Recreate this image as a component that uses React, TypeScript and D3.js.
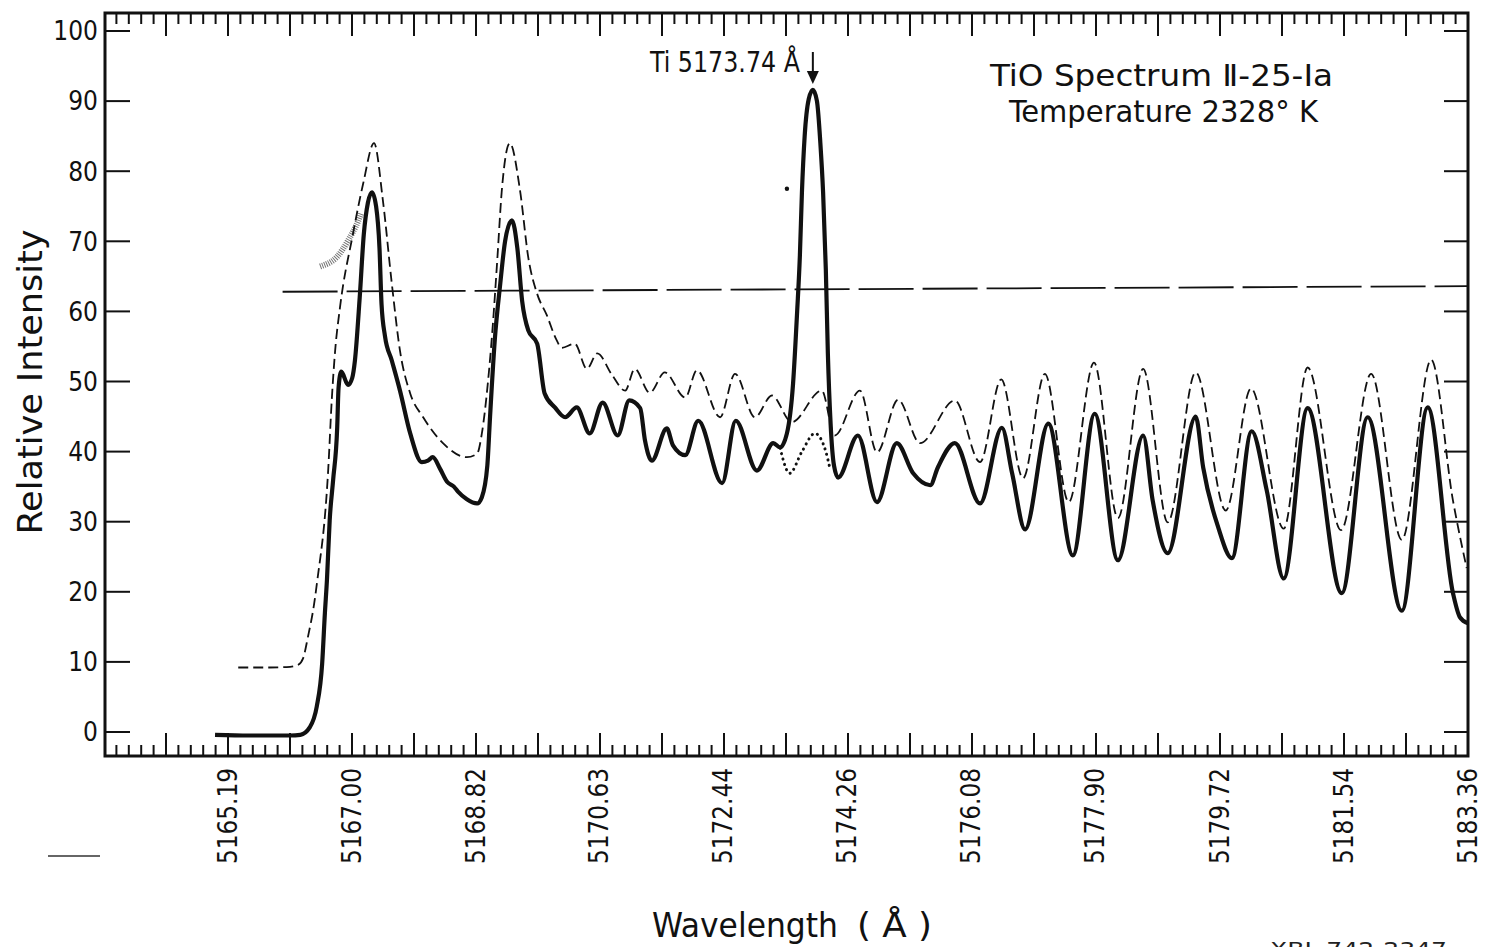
import React, { useEffect, useRef } from 'react';
import * as d3 from 'd3';

// Values: [wavelength in Å, relative intensity]
const solidTrace: [number, number][] = [
  [5165.0, -0.4], [5165.5, -0.5], [5166.1, -0.5], [5166.25, -0.4], [5166.39, 0.7],
  [5166.49, 3.6], [5166.57, 9.8], [5166.61, 17], [5166.64, 21.7], [5166.68, 30.2],
  [5166.73, 35.9], [5166.79, 43.4], [5166.81, 49.1], [5166.85, 51.4], [5166.95, 49.5],
  [5167.01, 50.5], [5167.05, 53], [5167.12, 62], [5167.18, 71], [5167.24, 75.5],
  [5167.3, 77], [5167.36, 75], [5167.41, 69], [5167.44, 61], [5167.49, 56.5],
  [5167.59, 53], [5167.71, 48.7], [5167.86, 42.6], [5168.03, 38.5], [5168.12, 38.7],
  [5168.19, 39.2], [5168.3, 37.5], [5168.4, 35.7], [5168.5, 35.0], [5168.56, 34.3],
  [5168.69, 33.2], [5168.84, 32.6], [5168.91, 33.5], [5168.99, 38], [5169.03, 45],
  [5169.1, 56], [5169.18, 64], [5169.25, 70], [5169.35, 73], [5169.43, 69],
  [5169.5, 61.5], [5169.59, 57.3], [5169.72, 55.4], [5169.83, 48.3], [5169.98, 46.3],
  [5170.13, 44.9], [5170.3, 46.3], [5170.49, 42.6], [5170.68, 47.0], [5170.9, 42.3],
  [5171.07, 47.3], [5171.23, 46.2], [5171.3, 41.6], [5171.4, 38.7], [5171.62, 43.3],
  [5171.71, 40.9], [5171.89, 39.5], [5172.08, 44.4], [5172.43, 35.5], [5172.63, 44.4],
  [5172.94, 37.3], [5173.18, 41.2], [5173.28, 40.6], [5173.38, 42.6], [5173.47, 49.7],
  [5173.53, 60], [5173.57, 68], [5173.6, 77], [5173.64, 85], [5173.7, 90.3],
  [5173.76, 91.6], [5173.82, 90], [5173.87, 84], [5173.91, 77], [5173.95, 66],
  [5173.98, 54], [5174.02, 44], [5174.07, 38], [5174.13, 36.3], [5174.42, 42.3],
  [5174.7, 32.8], [5174.99, 41.2], [5175.23, 36.9], [5175.48, 35.2], [5175.59, 37.7],
  [5175.84, 41.2], [5176.21, 32.6], [5176.53, 43.4], [5176.68, 36.9], [5176.87, 28.9],
  [5177.21, 44.0], [5177.57, 25.2], [5177.89, 45.4], [5178.23, 24.5], [5178.6, 42.3],
  [5178.74, 33.0], [5178.96, 25.5], [5179.37, 45.0], [5179.48, 37.7], [5179.7, 29.2],
  [5179.9, 24.8], [5180.19, 42.9], [5180.41, 34.5], [5180.66, 21.9], [5181.01, 46.2],
  [5181.51, 19.8], [5181.89, 44.9], [5182.39, 17.3], [5182.77, 46.3], [5183.14, 19.8],
  [5183.24, 16.4], [5183.36, 15.5],
];

const dashedTrace: [number, number][] = [
  [5165.34, 9.2], [5165.8, 9.2], [5166.1, 9.3], [5166.22, 9.6], [5166.29, 10.5],
  [5166.36, 13.5], [5166.46, 18.8], [5166.49, 21], [5166.66, 37.7], [5166.71, 47.3],
  [5166.76, 54.4], [5166.83, 60.5], [5167.02, 71], [5167.17, 78.2], [5167.33, 84],
  [5167.46, 75.8], [5167.59, 64], [5167.71, 54.4], [5167.86, 48.3], [5168.05, 44.9],
  [5168.34, 41.2], [5168.69, 39.2], [5168.84, 39.7], [5168.91, 42.6], [5169.0, 50],
  [5169.07, 58], [5169.14, 68], [5169.2, 77], [5169.32, 84], [5169.47, 77.2],
  [5169.59, 67.7], [5169.72, 62.5], [5169.86, 59.5], [5170.0, 56], [5170.08, 54.8],
  [5170.27, 55.4], [5170.45, 51.8], [5170.6, 54], [5170.82, 50.9], [5171.01, 48.7],
  [5171.15, 51.8], [5171.37, 48.4], [5171.59, 51.3], [5171.89, 47.7], [5172.06, 51.6],
  [5172.4, 44.9], [5172.62, 51.1], [5172.91, 44.9], [5173.16, 48], [5173.45, 44.2],
  [5173.89, 48.7], [5174.08, 42.3], [5174.45, 48.7], [5174.7, 39.9], [5175.01, 47.4],
  [5175.33, 41.2], [5175.84, 47.3], [5176.21, 38.5], [5176.52, 50.3], [5176.84, 36.2],
  [5177.16, 51.1], [5177.51, 32.8], [5177.88, 52.7], [5178.23, 30.5], [5178.6, 51.8],
  [5178.96, 29.9], [5179.37, 51.3], [5179.81, 31.6], [5180.18, 49.0], [5180.66, 29.0],
  [5181.01, 52.0], [5181.5, 28.8], [5181.94, 51.1], [5182.39, 27.4], [5182.82, 53.1],
  [5183.14, 33], [5183.34, 23.4],
];

// dotted continuation under the Ti line
const dottedTrace: [number, number][] = [
  [5173.28, 40.5], [5173.42, 36.9], [5173.6, 40], [5173.79, 42.6], [5173.95, 40], [5174.01, 37.6],
];

// grey stippled arc left of the first peak
const stippleArc: [number, number][] = [
  [5166.54, 66.4], [5166.72, 67.2], [5166.86, 68.7], [5166.99, 70.8], [5167.08, 72.5], [5167.14, 74.0],
];

const referenceLine: [number, number][] = [[5165.99, 62.8], [5183.36, 63.6]];

const xTickLabels = [
  '5165.19', '5167.00', '5168.82', '5170.63', '5172.44', '5174.26',
  '5176.08', '5177.90', '5179.72', '5181.54', '5183.36',
];
const yTicks = [0, 10, 20, 30, 40, 50, 60, 70, 80, 90, 100];

const tiLine = { wavelength: 5173.76, label: 'Ti  5173.74 Å' };
const titleLines = ['TiO  Spectrum  Ⅱ-25-Ia', 'Temperature  2328° K'];
const inkDot: [number, number] = [5173.38, 77.5];

const FONT = "'Liberation Sans Narrow', 'DejaVu Sans Condensed', 'Liberation Sans', 'DejaVu Sans', sans-serif";

const TiOSpectrumChart = () => {
  const svgRef = useRef<SVGSVGElement>(null);

  useEffect(() => {
    const svg = d3.select(svgRef.current);
    svg.selectAll('*').remove();

    // plot frame in page pixels
    const left = 105, right = 1468, top = 13, bottom = 756;

    const xVals = xTickLabels.map(Number);
    const x = d3.scaleLinear().domain([xVals[0], xVals[xVals.length - 1]]).range([228, right]);
    const y = d3.scaleLinear().domain([0, 100]).range([732, 31]);

    svg.append('rect')
      .attr('width', 1486).attr('height', 947).attr('fill', '#fff');

    // frame
    svg.append('rect')
      .attr('x', left).attr('y', top)
      .attr('width', right - left).attr('height', bottom - top)
      .attr('fill', 'none').attr('stroke', '#111').attr('stroke-width', 3);

    // x ticks: 10 minor steps between labelled values, major every 5
    const step = (xVals[xVals.length - 1] - xVals[0]) / (10 * (xVals.length - 1));
    const xTicks = d3.range(-10, 10 * (xVals.length - 1) + 1)
      .map(i => ({ v: xVals[0] + i * step, major: i % 5 === 0 }))
      .filter(t => x(t.v) > left + 4 && x(t.v) < right - 2);

    const tickG = svg.append('g').attr('stroke', '#111').attr('stroke-width', 2);
    xTicks.forEach(t => {
      const len = t.major ? 23 : 11;
      tickG.append('line')
        .attr('x1', x(t.v)).attr('x2', x(t.v))
        .attr('y1', bottom).attr('y2', bottom - len);
      tickG.append('line')
        .attr('x1', x(t.v)).attr('x2', x(t.v))
        .attr('y1', top).attr('y2', top + len);
    });

    yTicks.forEach(v => {
      tickG.append('line')
        .attr('x1', left).attr('x2', left + 25)
        .attr('y1', y(v)).attr('y2', y(v));
      tickG.append('line')
        .attr('x1', right - 24).attr('x2', right)
        .attr('y1', y(v)).attr('y2', y(v));
    });

    // y tick labels
    svg.append('g')
      .attr('font-family', FONT).attr('font-size', 26).attr('fill', '#111')
      .attr('text-anchor', 'end')
      .selectAll('text').data(yTicks).enter().append('text')
      .attr('x', 98).attr('y', d => y(d)).attr('dy', '0.36em')
      .text(d => d);

    // x tick labels, rotated
    svg.append('g')
      .attr('font-family', FONT).attr('font-size', 26).attr('fill', '#111')
      .selectAll('text').data(xTickLabels).enter().append('text')
      .attr('text-anchor', 'end')
      .attr('transform', d => `translate(${x(+d) + 9},${768}) rotate(-90)`)
      .attr('textLength', 96).attr('lengthAdjust', 'spacingAndGlyphs')
      .text(d => d);

    // axis titles
    svg.append('text')
      .attr('font-family', FONT).attr('font-size', 33).attr('fill', '#111')
      .attr('text-anchor', 'middle')
      .attr('transform', 'translate(42,382) rotate(-90)')
      .attr('textLength', 305).attr('lengthAdjust', 'spacingAndGlyphs')
      .text('Relative   Intensity');

    svg.append('text')
      .attr('font-family', FONT).attr('font-size', 33).attr('fill', '#111')
      .attr('x', 652).attr('y', 937)
      .attr('textLength', 186).attr('lengthAdjust', 'spacingAndGlyphs')
      .text('Wavelength');
    svg.append('text')
      .attr('font-family', FONT).attr('font-size', 33).attr('fill', '#111')
      .attr('x', 857).attr('y', 937)
      .attr('textLength', 75).attr('lengthAdjust', 'spacingAndGlyphs')
      .text('( Å )');

    // title block
    svg.append('text')
      .attr('font-family', FONT).attr('font-size', 31).attr('fill', '#111')
      .attr('x', 990).attr('y', 86)
      .attr('textLength', 343).attr('lengthAdjust', 'spacingAndGlyphs')
      .text(titleLines[0]);
    svg.append('text')
      .attr('font-family', FONT).attr('font-size', 31).attr('fill', '#111')
      .attr('x', 1009).attr('y', 122)
      .attr('textLength', 309).attr('lengthAdjust', 'spacingAndGlyphs')
      .text(titleLines[1]);

    // Ti line marker
    const tx = x(tiLine.wavelength);
    svg.append('text')
      .attr('font-family', FONT).attr('font-size', 29).attr('fill', '#111')
      .attr('x', 650).attr('y', 72)
      .attr('textLength', 150).attr('lengthAdjust', 'spacingAndGlyphs')
      .text(tiLine.label);
    svg.append('line')
      .attr('x1', tx).attr('x2', tx).attr('y1', 52).attr('y2', 74)
      .attr('stroke', '#111').attr('stroke-width', 2);
    svg.append('path')
      .attr('d', `M${tx - 6},71 L${tx + 6},71 L${tx},84 Z`)
      .attr('fill', '#111');

    // traces
    const line = d3.line<[number, number]>()
      .x(d => x(d[0]))
      .y(d => y(d[1]))
      .curve(d3.curveMonotoneX);

    svg.append('path')
      .datum(stippleArc)
      .attr('fill', 'none').attr('stroke', '#444').attr('stroke-width', 6)
      .attr('stroke-dasharray', '1 1.2').attr('opacity', 0.75)
      .attr('d', d3.line<[number, number]>().x(d => x(d[0])).y(d => y(d[1])).curve(d3.curveNatural));

    svg.append('path')
      .datum(referenceLine)
      .attr('fill', 'none').attr('stroke', '#111').attr('stroke-width', 1.8)
      .attr('stroke-dasharray', '55 9')
      .attr('d', d3.line<[number, number]>().x(d => x(d[0])).y(d => y(d[1])));

    svg.append('path')
      .datum(dashedTrace)
      .attr('fill', 'none').attr('stroke', '#111').attr('stroke-width', 1.8)
      .attr('stroke-dasharray', '10 5')
      .attr('d', line);

    svg.append('path')
      .datum(dottedTrace)
      .attr('fill', 'none').attr('stroke', '#111').attr('stroke-width', 3)
      .attr('stroke-dasharray', '0.1 5.5').attr('stroke-linecap', 'round')
      .attr('d', line);

    svg.append('path')
      .datum(solidTrace)
      .attr('fill', 'none').attr('stroke', '#111').attr('stroke-width', 4.2)
      .attr('stroke-linejoin', 'round')
      .attr('d', line);

    svg.append('circle')
      .attr('cx', x(inkDot[0])).attr('cy', y(inkDot[1])).attr('r', 2.2)
      .attr('fill', '#111');

    // stray pen stroke and catalogue number at the page edges
    svg.append('line')
      .attr('x1', 48).attr('x2', 100).attr('y1', 856).attr('y2', 856)
      .attr('stroke', '#333').attr('stroke-width', 1.5);
    svg.append('text')
      .attr('font-family', FONT).attr('font-size', 20).attr('fill', '#222')
      .attr('x', 1270).attr('y', 956)
      .attr('textLength', 177).attr('lengthAdjust', 'spacingAndGlyphs')
      .text('XBL  742-2347');
  }, []);

  return (
    <svg
      ref={svgRef}
      width={1486}
      height={947}
      style={{ position: 'absolute', left: 0, top: 0 }}
    />
  );
};

export default function App() {
  return <TiOSpectrumChart />;
}
